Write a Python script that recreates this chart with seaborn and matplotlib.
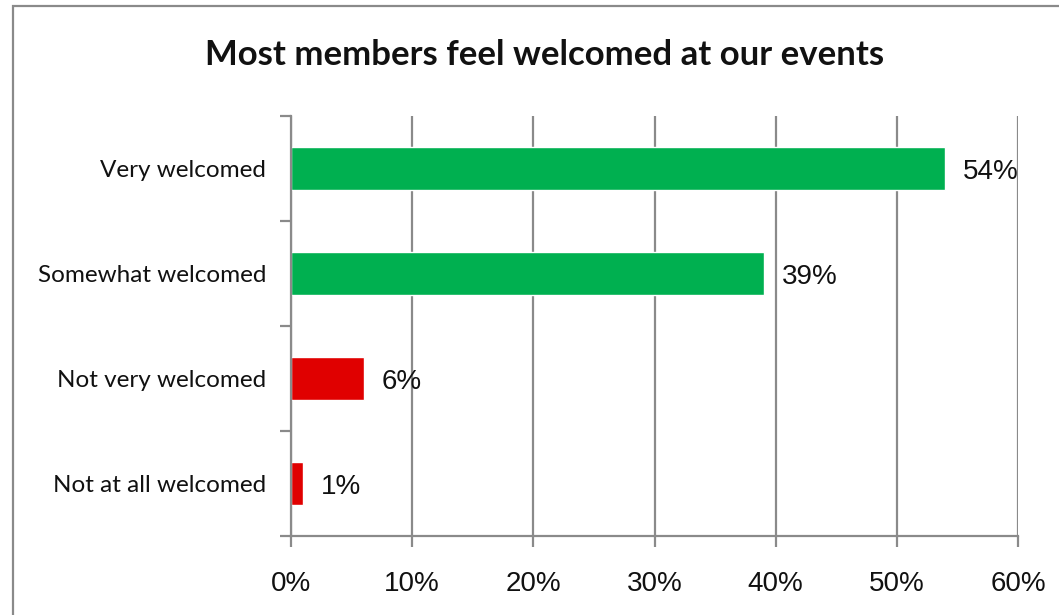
import matplotlib
matplotlib.use("Agg")
import matplotlib.pyplot as plt
from matplotlib.patches import Rectangle
import seaborn as sns
import pandas as pd

categories = ["Very welcomed", "Somewhat welcomed", "Not very welcomed", "Not at all welcomed"]
shares = [54, 39, 6, 1]
bar_colors = ["#00B050", "#00B050", "#E00000", "#E00000"]
x_ticks = [0, 10, 20, 30, 40, 50, 60]
title = "Most members feel welcomed at our events"

df = pd.DataFrame({"category": categories, "share": shares})

sns.set_style("white")
GRAY = "#8a8a8a"

fig = plt.figure(figsize=(10.59, 6.15), dpi=100)
ax = fig.add_axes([291 / 1059, 79 / 615, 727 / 1059, 420 / 615])

sns.barplot(data=df, y="category", x="share", hue="category",
            palette=bar_colors, orient="h", width=0.41, legend=False,
            saturation=1, ax=ax)

ax.set_xlim(0, 60)
ax.set_ylim(3.5, -0.5)
ax.set_xticks(x_ticks)
ax.set_xticklabels([f"{v}%" for v in x_ticks], fontfamily="Liberation Sans", fontsize=20)
ax.set_xlabel("")
ax.set_ylabel("")

# vertical gridlines
ax.grid(axis="x", color=GRAY, linewidth=1.6)
ax.set_axisbelow(True)

for side in ["top", "right"]:
    ax.spines[side].set_visible(False)
for side in ["left", "bottom"]:
    ax.spines[side].set_color(GRAY)
    ax.spines[side].set_linewidth(1.6)

ax.tick_params(axis="x", which="major", bottom=True, length=8, width=1.6,
               color=GRAY, pad=17, direction="out")
ax.tick_params(axis="y", which="major", left=True, length=0, pad=18)
ax.set_yticks([-0.5, 0.5, 1.5, 2.5, 3.5], minor=True)
ax.tick_params(axis="y", which="minor", left=True, length=8, width=1.6,
               color=GRAY, direction="out")
for lbl in ax.get_yticklabels():
    lbl.set_fontfamily("Lato")
    lbl.set_fontsize(17.5)
    lbl.set_color("#111111")
for lbl in ax.get_xticklabels():
    lbl.set_color("#111111")

# value labels, nudged slightly below the bar centre
for container in ax.containers:
    texts = ax.bar_label(container, labels=[f"{v:.0f}%" for v in container.datavalues],
                         padding=13, fontfamily="Liberation Sans", fontsize=20,
                         color="#111111")
    for t in texts:
        dx, dy = t.xyann
        t.xyann = (dx, dy - 2.2)

fig.text(545 / 1059, 1 - 55 / 615, title, ha="center", va="center",
         fontfamily="Lato", fontweight="bold", fontsize=25, color="#111111")

# chart frame
fig.patches.append(Rectangle((13 / 1059, -0.1), 1.2, 1.1 - 6 / 615,
                             transform=fig.transFigure, fill=False,
                             edgecolor=GRAY, linewidth=1.6))

fig.savefig("out.png", dpi=100, facecolor="white")
